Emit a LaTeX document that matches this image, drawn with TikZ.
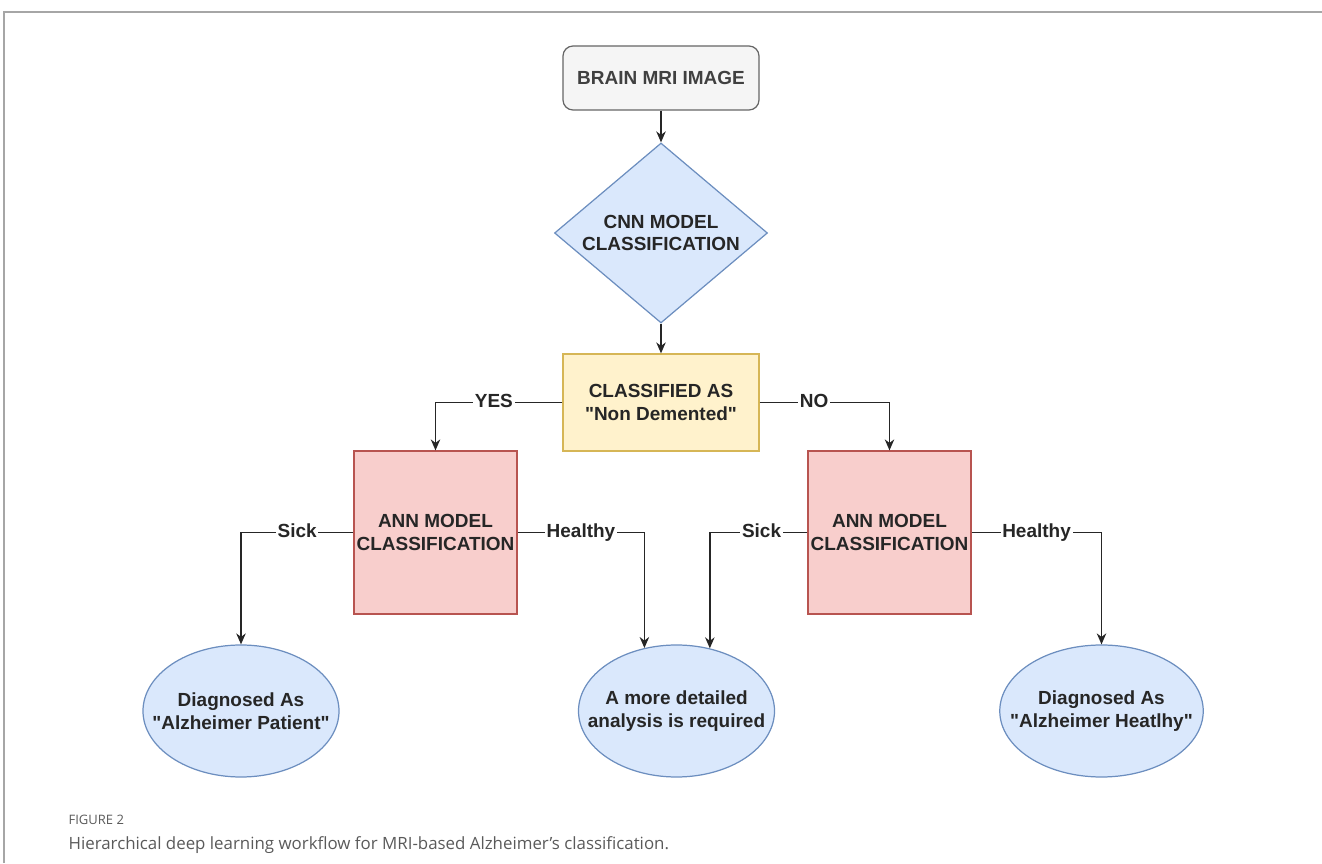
\documentclass[tikz,border=0pt]{standalone}
\usepackage{fontspec}
\setmainfont{Liberation Sans}
\newfontfamily\capfont{Open Sans}
\usetikzlibrary{shapes.geometric,arrows.meta}

\definecolor{grayfill}{HTML}{F5F5F5}
\definecolor{graydraw}{HTML}{666666}
\definecolor{bluefill}{HTML}{DAE8FC}
\definecolor{bluedraw}{HTML}{6C8EBF}
\definecolor{yelfill}{HTML}{FFF2CC}
\definecolor{yeldraw}{HTML}{D6B656}
\definecolor{redfill}{HTML}{F8CECC}
\definecolor{reddraw}{HTML}{B85450}
\definecolor{capgray}{HTML}{5A5A5A}
\newcommand{\qq}{\textquotedbl}

\begin{document}
\begin{tikzpicture}[
  txt/.style={font=\fontsize{10.8}{13}\selectfont\bfseries, text=black!85, align=center},
  startbox/.style={txt, draw=graydraw, fill=grayfill, rounded corners=0.2cm, minimum width=3.92cm, minimum height=1.28cm, text=black!75},
  cnnbox/.style={txt, shape=diamond, draw=bluedraw, fill=bluefill, inner sep=0pt, shape aspect=1.2, minimum width=4.26cm, minimum height=3.6cm},
  clsbox/.style={txt, draw=yeldraw, fill=yelfill, minimum width=3.92cm, minimum height=1.94cm},
  annbox/.style={txt, draw=reddraw, fill=redfill, inner sep=0pt, minimum width=3.26cm, minimum height=3.26cm},
  dxbox/.style={txt, shape=ellipse, draw=bluedraw, fill=bluefill, inner xsep=-11pt, inner ysep=0pt, minimum width=3.92cm, minimum height=2.64cm},
  lbl/.style={txt, fill=white, inner sep=1pt, text height=0.75em, text depth=0.2em},
  flow/.style={-{Stealth[length=0.22cm,width=0.19cm]}, line width=0.85pt, black!85},
  line width=0.7pt]
\useasboundingbox (0,0) rectangle (26.44,17.26);
% page frame
\draw[black!35, line width=0.8pt] (0.08,0) -- (0.08,17.02) -- (26.44,17.02);

\node[startbox] (mri) at (13.22, 15.70) {BRAIN MRI IMAGE};
\node[cnnbox] (cnn) at (13.22, 12.60) {CNN MODEL\\CLASSIFICATION};
\node[clsbox] (cls) at (13.22, 9.21) {CLASSIFIED AS\\\qq Non Demented\qq};

\node[annbox] (annl) at (8.71, 6.61) {ANN MODEL\\CLASSIFICATION};
\node[annbox] (annr) at (17.79, 6.61) {ANN MODEL\\CLASSIFICATION};

\node[dxbox] (dxl) at (4.82, 3.04) {Diagnosed As\\\qq Alzheimer Patient\qq};
\node[dxbox] (dxm) at (13.53, 3.04) {A more detailed\\analysis is required};
\node[dxbox] (dxr) at (22.03, 3.04) {Diagnosed As\\\qq Alzheimer Heatlhy\qq};

\draw[flow] (mri) -- (cnn);
\draw[flow] (cnn) -- (cls);
\draw[flow] (cls.west) -| node[lbl, pos=0.27] {YES} (annl.north);
\draw[flow] (cls.east) -| node[lbl, pos=0.21] {NO} (annr.north);

\draw[flow] (annl.west) -| node[lbl, pos=0.25] {Sick} (dxl.north);
\draw[flow] (annl.east) -| node[lbl, pos=0.25] {Healthy} (dxm.117);
\draw[flow] (annr.west) -| node[lbl, pos=0.235] {Sick} (dxm.62);
\draw[flow] (annr.east) -| node[lbl, pos=0.25] {Healthy} (dxr.north);

% caption
\node[anchor=west, inner sep=0pt, text=capgray, font=\capfont\fontsize{7.4}{9}\selectfont] (fig) at (1.36, 0.86) {FIGURE 2};
\node[anchor=west, inner sep=0pt, text=capgray, font=\capfont\fontsize{9.6}{12}\selectfont] (cap) at (1.36, 0.36) {Hierarchical deep learning workflow for MRI-based Alzheimer’s classification.};
\end{tikzpicture}
\end{document}
